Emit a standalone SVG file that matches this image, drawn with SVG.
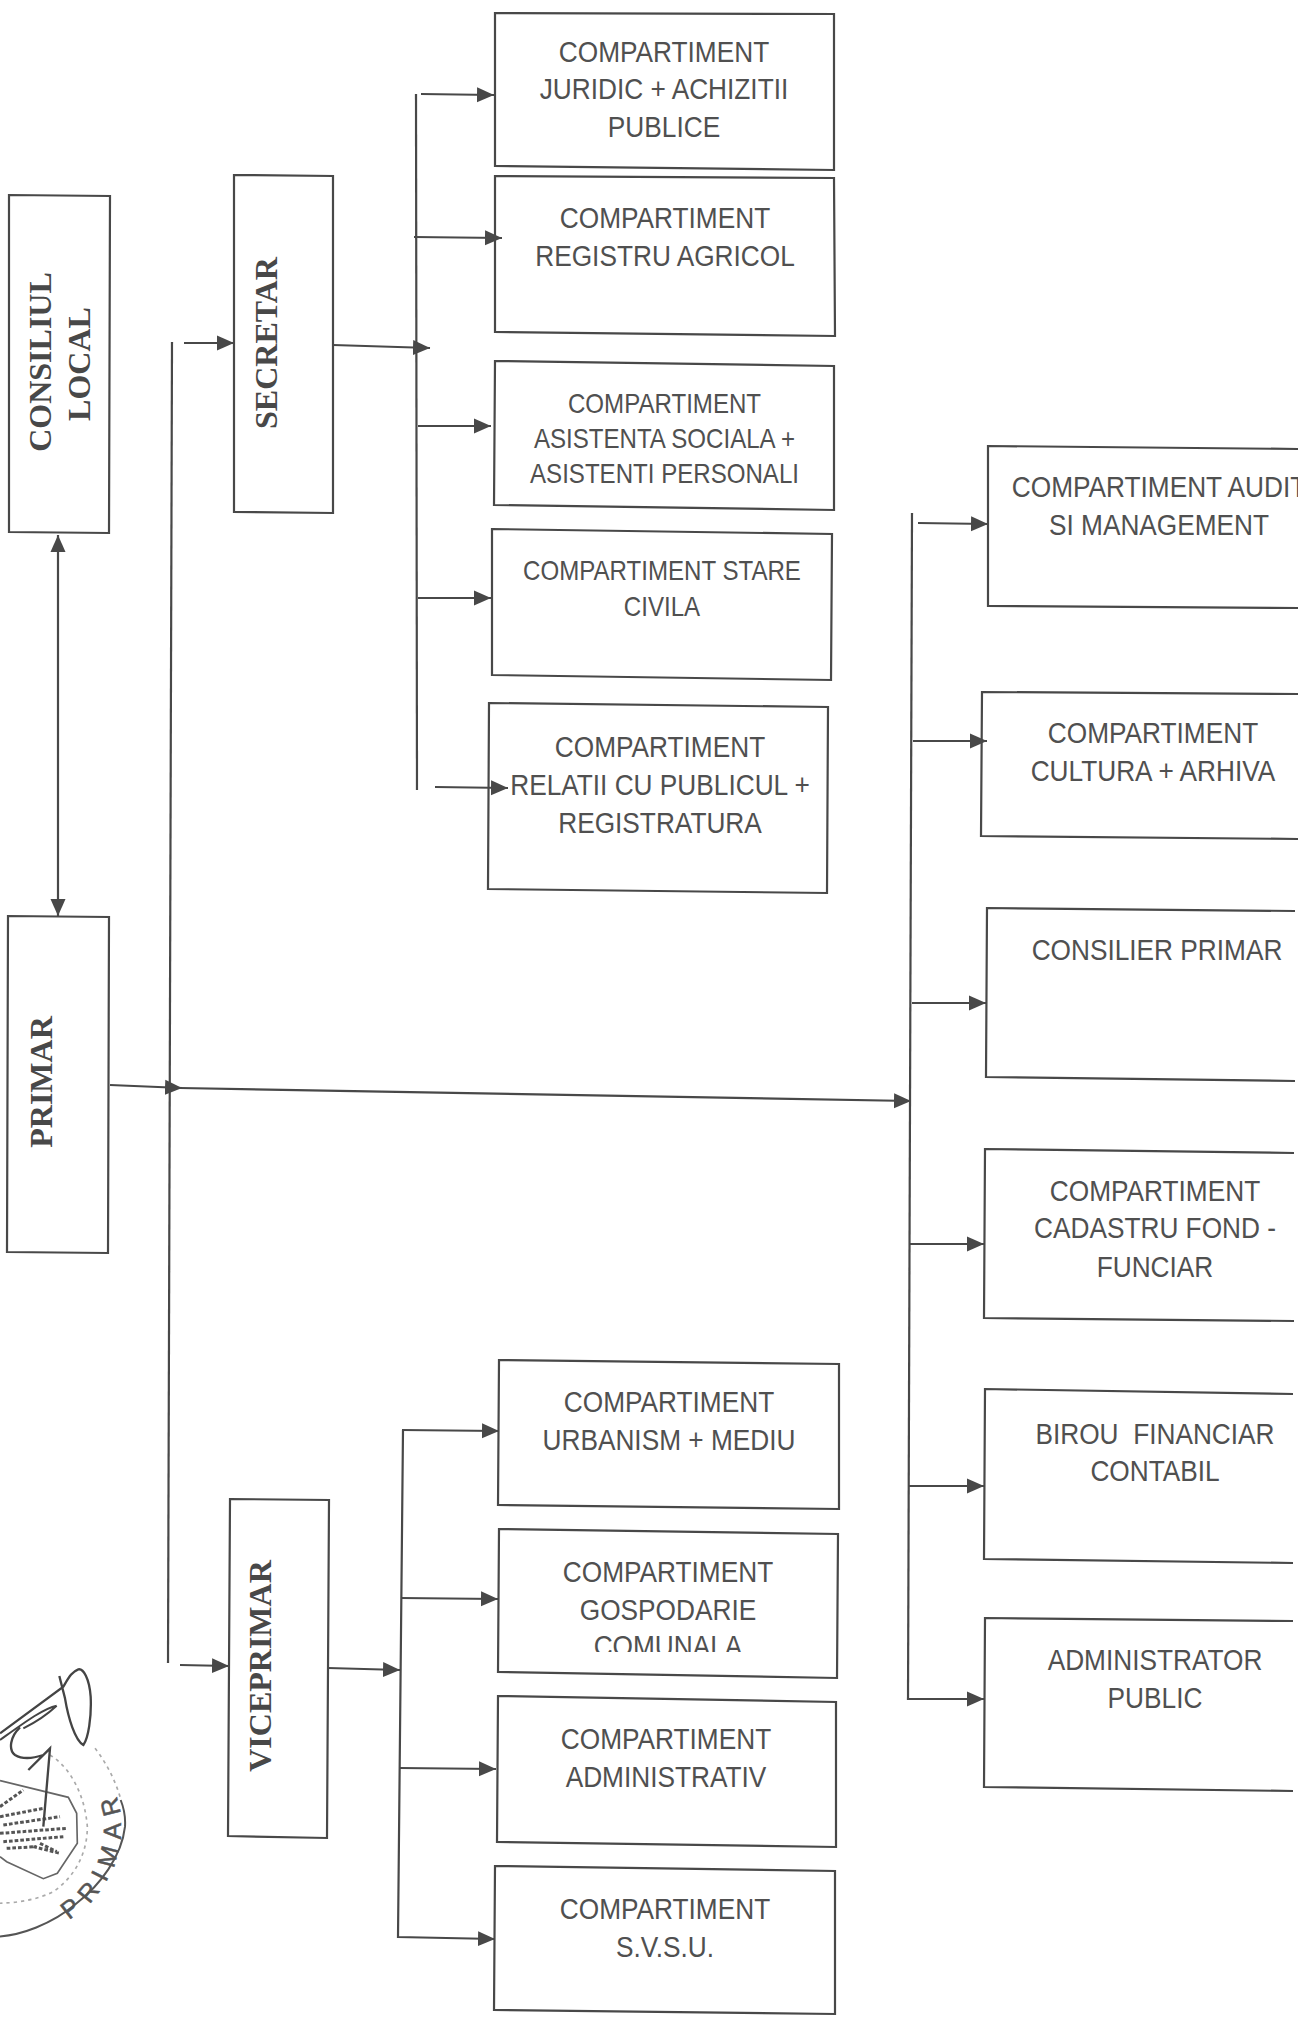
<svg xmlns="http://www.w3.org/2000/svg" width="1298" height="2018" viewBox="0 0 1298 2018">
<style>
.box{fill:none;stroke:#484848;stroke-width:2.2}
.c{fill:none;stroke:#484848;stroke-width:2.2}
.a{font-family:"Liberation Sans",Arial,sans-serif;font-size:30px;fill:#505050;text-anchor:middle;white-space:pre}
.b{font-size:27.5px}
.s{font-family:"Liberation Serif","Times New Roman",serif;font-size:32px;font-weight:bold;fill:#484848;text-anchor:middle}
.st{fill:none;stroke:#555;stroke-width:6}
.fa{fill:none;stroke:#aaa;stroke-width:5;stroke-dasharray:10 12}
.tx{fill:none;stroke:#555;stroke-width:9;stroke-dasharray:11 6}
</style>
<defs>
<marker id="ah" markerUnits="userSpaceOnUse" markerWidth="18" markerHeight="18" refX="17" refY="9" orient="auto-start-reverse"><path d="M0,1.5 L17,9 L0,16.5 Z" fill="#484848"/></marker>
<clipPath id="cl"><rect x="560" y="1625" width="220" height="27"/></clipPath>
<path id="sa" d="M68.6,1919.6 A108,108 0 0 0 106.5,1773"/>
</defs>
<rect width="1298" height="2018" fill="#fff"/>

<g id="stamp">
<g transform="translate(0 1640) scale(.33333)">
<path class="st" d="M-20,890 C60,890 160,850 230,790 C300,735 365,650 375,560 C377,530 370,500 362,480"/>
<path class="fa" d="M360,470 C345,420 320,370 285,325"/>
<path class="fa" d="M150,345 C215,385 255,470 262,560 C262,640 225,710 160,755 C110,780 50,790 -20,790"/>
<path d="M0,422 L205,472 L230,520 L232,610 L172,700 L130,716 L20,665 L0,650" fill="none" stroke="#666" stroke-width="5"/>
<path class="tx" d="M0,500 L70,450 M0,530 L130,505 M10,555 L180,530 M0,580 L200,565 M10,605 L190,590 M20,625 L110,620 M100,620 L180,640 M120,610 L170,635"/>
<path d="M178,108 L195,175 C205,235 225,300 250,315 C265,295 275,230 272,170 C268,115 250,85 235,88 C215,95 205,115 190,140 L0,280" fill="none" stroke="#444" stroke-width="7"/>
<path d="M170,197 C130,205 70,250 0,300 M170,197 C140,225 100,250 70,265" fill="none" stroke="#444" stroke-width="6"/>
<path d="M60,262 C30,290 25,330 45,345 C70,360 100,355 130,345 L85,390 L150,325 L130,560" fill="none" stroke="#444" stroke-width="7"/>
</g>
<text font-family="Liberation Sans,Arial,sans-serif" font-size="25" fill="#555" stroke="#555" stroke-width=".5" letter-spacing="9"><textPath href="#sa">PRIMAR</textPath></text>
</g>

<g id="connectors">
<path class="c" d="M58,535 L58,916" marker-start="url(#ah)" marker-end="url(#ah)"/>
<path class="c" d="M110,1085 L182,1088" marker-end="url(#ah)"/>
<path class="c" d="M180,1088 L911,1101" marker-end="url(#ah)"/>
<path class="c" d="M172,342 L168,1663"/>
<path class="c" d="M184,343 L234,343" marker-end="url(#ah)"/>
<path class="c" d="M180,1665 L229,1666" marker-end="url(#ah)"/>
<path class="c" d="M333,345 L430,348" marker-end="url(#ah)"/>
<path class="c" d="M416,94 L417,790"/>
<path class="c" d="M421,94 L494,95" marker-end="url(#ah)"/>
<path class="c" d="M414,237 L502,238" marker-end="url(#ah)"/>
<path class="c" d="M418,426 L491,426" marker-end="url(#ah)"/>
<path class="c" d="M418,598 L491,598" marker-end="url(#ah)"/>
<path class="c" d="M435,787 L508,788" marker-end="url(#ah)"/>
<path class="c" d="M328,1668 L400,1670" marker-end="url(#ah)"/>
<path class="c" d="M403,1430 L398,1937 L495,1939" marker-end="url(#ah)"/>
<path class="c" d="M402,1430 L499,1431" marker-end="url(#ah)"/>
<path class="c" d="M401,1598 L498,1599" marker-end="url(#ah)"/>
<path class="c" d="M400,1768 L496,1769" marker-end="url(#ah)"/>
<path class="c" d="M912,513 L908,1700"/>
<path class="c" d="M918,523 L988,524" marker-end="url(#ah)"/>
<path class="c" d="M913,741 L987,741" marker-end="url(#ah)"/>
<path class="c" d="M912,1003 L986,1003" marker-end="url(#ah)"/>
<path class="c" d="M910,1244 L984,1244" marker-end="url(#ah)"/>
<path class="c" d="M908,1486 L984,1486" marker-end="url(#ah)"/>
<path class="c" d="M907,1699 L984,1699" marker-end="url(#ah)"/>
</g>

<g id="consiliul"><path class="box" d="M9,195 L110,196 L109,533 L9,532 Z"/><text class="s" transform="translate(51 362) rotate(-90)">CONSILIUL</text><text class="s" transform="translate(90 364) rotate(-90)">LOCAL</text></g>
<g id="primar"><path class="box" d="M8,916 L109,917 L108,1253 L7,1252 Z"/><text class="s" transform="translate(52 1082) rotate(-90)">PRIMAR</text></g>
<g id="secretar"><path class="box" d="M234,175 L333,176 L333,513 L234,512 Z"/><text class="s" transform="translate(277 343) rotate(-90)">SECRETAR</text></g>
<g id="viceprimar"><path class="box" d="M230,1499 L329,1500 L327,1838 L228,1836 Z"/><text class="s" transform="translate(271 1666) rotate(-90)">VICEPRIMAR</text></g>

<g id="juridic"><path class="box" d="M495,13 L834,14 L834,170 L495,166 Z"/><text class="a" transform="translate(664 0) scale(.875 1)"><tspan x="0" y="62">COMPARTIMENT</tspan><tspan x="0" y="99">JURIDIC + ACHIZITII</tspan><tspan x="0" y="137">PUBLICE</tspan></text></g>
<g id="registru"><path class="box" d="M495,176 L834,178 L835,336 L495,332 Z"/><text class="a" transform="translate(665 0) scale(.875 1)"><tspan x="0" y="228">COMPARTIMENT</tspan><tspan x="0" y="266">REGISTRU AGRICOL</tspan></text></g>
<g id="asistenta"><path class="box" d="M495,361 L834,366 L834,510 L494,505 Z"/><text class="a b" transform="translate(664.5 0) scale(.876 1)"><tspan x="0" y="413">COMPARTIMENT</tspan><tspan x="0" y="448">ASISTENTA SOCIALA +</tspan><tspan x="0" y="483">ASISTENTI PERSONALI</tspan></text></g>
<g id="stare"><path class="box" d="M492,529 L832,534 L831,680 L492,675 Z"/><text class="a b" transform="translate(662 0) scale(.876 1)"><tspan x="0" y="580">COMPARTIMENT STARE</tspan><tspan x="0" y="616">CIVILA</tspan></text></g>
<g id="relatii"><path class="box" d="M489,703 L828,707 L827,893 L488,889 Z"/><text class="a" transform="translate(660 0) scale(.875 1)"><tspan x="0" y="757">COMPARTIMENT</tspan><tspan x="0" y="795">RELATII CU PUBLICUL +</tspan><tspan x="0" y="833">REGISTRATURA</tspan></text></g>
<g id="urbanism"><path class="box" d="M499,1360 L839,1364 L839,1509 L498,1505 Z"/><text class="a" transform="translate(669 0) scale(.875 1)"><tspan x="0" y="1412">COMPARTIMENT</tspan><tspan x="0" y="1450">URBANISM + MEDIU</tspan></text></g>
<g id="gospodarie"><path class="box" d="M499,1529 L838,1534 L837,1678 L498,1672 Z"/><text class="a" transform="translate(668 0) scale(.875 1)"><tspan x="0" y="1582">COMPARTIMENT</tspan><tspan x="0" y="1620">GOSPODARIE</tspan></text><g clip-path="url(#cl)"><text class="a" transform="translate(668 0) scale(.875 1)" x="0" y="1656">COMUNALA</text></g></g>
<g id="administrativ"><path class="box" d="M498,1696 L836,1702 L836,1847 L497,1842 Z"/><text class="a" transform="translate(666 0) scale(.875 1)"><tspan x="0" y="1749">COMPARTIMENT</tspan><tspan x="0" y="1787">ADMINISTRATIV</tspan></text></g>
<g id="svsu"><path class="box" d="M495,1866 L835,1871 L835,2014 L494,2010 Z"/><text class="a" transform="translate(665 0) scale(.875 1)"><tspan x="0" y="1919">COMPARTIMENT</tspan><tspan x="0" y="1957">S.V.S.U.</tspan></text></g>

<g id="audit"><path class="box" d="M1300,449 L988,446 L988,606 L1300,608"/><text class="a" transform="translate(1159 0) scale(.875 1)"><tspan x="0" y="497">COMPARTIMENT AUDIT</tspan><tspan x="0" y="535">SI MANAGEMENT</tspan></text></g>
<g id="cultura"><path class="box" d="M1300,694 L982,692 L981,836 L1300,839"/><text class="a" transform="translate(1153 0) scale(.875 1)"><tspan x="0" y="743">COMPARTIMENT</tspan><tspan x="0" y="781">CULTURA + ARHIVA</tspan></text></g>
<g id="consilier"><path class="box" d="M1295,911 L987,908 L986,1077 L1295,1081"/><text class="a" transform="translate(1157 0) scale(.875 1)" x="0" y="960">CONSILIER PRIMAR</text></g>
<g id="cadastru"><path class="box" d="M1294,1153 L985,1149 L984,1318 L1294,1321"/><text class="a" transform="translate(1155 0) scale(.875 1)"><tspan x="0" y="1201">COMPARTIMENT</tspan><tspan x="0" y="1238">CADASTRU FOND -</tspan><tspan x="0" y="1277">FUNCIAR</tspan></text></g>
<g id="birou"><path class="box" d="M1293,1394 L985,1389 L984,1559 L1293,1563"/><text class="a" transform="translate(1155 0) scale(.875 1)"><tspan x="0" y="1444">BIROU  FINANCIAR</tspan><tspan x="0" y="1481">CONTABIL</tspan></text></g>
<g id="administrator"><path class="box" d="M1293,1621 L985,1618 L984,1787 L1293,1791"/><text class="a" transform="translate(1155 0) scale(.875 1)"><tspan x="0" y="1670">ADMINISTRATOR</tspan><tspan x="0" y="1708">PUBLIC</tspan></text></g>
</svg>
